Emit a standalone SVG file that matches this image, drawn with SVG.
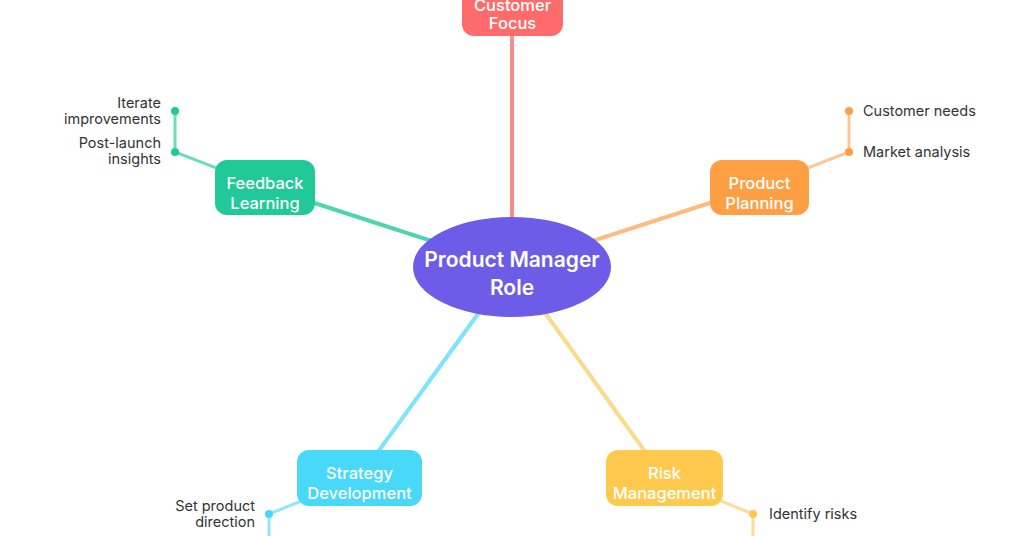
<svg xmlns="http://www.w3.org/2000/svg" width="1024" height="536" viewBox="0 0 1024 536">
  <style>
    .box-text { font-family: Inter, "Noto Sans", sans-serif; font-size: 16.5px; font-weight: 500; fill: #ffffff; text-anchor: middle; }
    .hub-text { font-family: Inter, "Noto Sans", sans-serif; font-size: 21px; font-weight: 600; fill: #ffffff; text-anchor: middle; }
    .leaf { font-family: Inter, "Noto Sans", sans-serif; font-size: 14.5px; fill: #333333; }
    .leaf-r { text-anchor: end; }
    .main { stroke-width: 4; fill: none; stroke-linecap: round; }
    .sub { stroke-width: 3; fill: none; stroke-linecap: round; }
  </style>
  <rect width="1024" height="536" fill="#ffffff"/>

  <g id="connectors">
    <!-- hub to branches -->
    <line class="main" x1="512" y1="267" x2="512" y2="10" stroke="#FF8A8A"/>
    <line class="main" x1="512" y1="267" x2="265" y2="187" stroke="#4DD6AE"/>
    <line class="main" x1="512" y1="267" x2="759" y2="187" stroke="#FDBB80"/>
    <line class="main" x1="512" y1="267" x2="359" y2="478" stroke="#7EE4FA"/>
    <line class="main" x1="512" y1="267" x2="664" y2="478" stroke="#FCDA8C"/>
    <!-- branches to leaves -->
    <polyline class="sub" points="265,187 175,152 175,111" stroke="#6ADDBB"/>
    <polyline class="sub" points="759,187 849,152 849,111" stroke="#FDC694"/>
    <polyline class="sub" points="359,478 269,514 269,540" stroke="#8EE7FB"/>
    <polyline class="sub" points="664,478 753,514 753,540" stroke="#FCDD98"/>
  </g>

  <g id="leaf-dots">
    <circle cx="175" cy="111" r="4" fill="#20C997"/>
    <circle cx="175" cy="152" r="4" fill="#20C997"/>
    <circle cx="849" cy="111" r="4" fill="#FF9F43"/>
    <circle cx="849" cy="152" r="4" fill="#FF9F43"/>
    <circle cx="269" cy="514" r="4" fill="#48D6F8"/>
    <circle cx="753" cy="514" r="4" fill="#FFC84D"/>
  </g>

  <g id="hub">
    <ellipse cx="512" cy="267" rx="99" ry="50" fill="#6C5CE7"/>
    <text class="hub-text" x="512" y="267">Product Manager</text>
    <text class="hub-text" x="512" y="295">Role</text>
  </g>

  <g id="customer-focus">
    <rect x="462" y="-20" width="101" height="56" rx="12" fill="#FF6B6B"/>
    <text class="box-text" x="512.5" y="11">Customer</text>
    <text class="box-text" x="512.5" y="29">Focus</text>
  </g>

  <g id="feedback-learning">
    <rect x="215" y="160" width="100" height="55" rx="12" fill="#20C997"/>
    <text class="box-text" x="265" y="189">Feedback</text>
    <text class="box-text" x="265" y="209">Learning</text>
  </g>

  <g id="product-planning">
    <rect x="710" y="160" width="99" height="55" rx="12" fill="#FF9F43"/>
    <text class="box-text" x="759.5" y="189">Product</text>
    <text class="box-text" x="759.5" y="209">Planning</text>
  </g>

  <g id="strategy-development">
    <rect x="297" y="450" width="125" height="56" rx="12" fill="#48D9F9"/>
    <text class="box-text" x="359.5" y="479">Strategy</text>
    <text class="box-text" x="359.5" y="499">Development</text>
  </g>

  <g id="risk-management">
    <rect x="606" y="450" width="117" height="56" rx="12" fill="#FFC94D"/>
    <text class="box-text" x="664.5" y="479">Risk</text>
    <text class="box-text" x="664.5" y="499">Management</text>
  </g>

  <g id="leaves">
    <text class="leaf leaf-r" x="161" y="108">Iterate</text>
    <text class="leaf leaf-r" x="161" y="124">improvements</text>
    <text class="leaf leaf-r" x="161" y="148">Post-launch</text>
    <text class="leaf leaf-r" x="161" y="164">insights</text>
    <text class="leaf" x="863" y="116">Customer needs</text>
    <text class="leaf" x="863" y="157">Market analysis</text>
    <text class="leaf leaf-r" x="255" y="511">Set product</text>
    <text class="leaf leaf-r" x="255" y="527">direction</text>
    <text class="leaf" x="769" y="519">Identify risks</text>
  </g>
</svg>
